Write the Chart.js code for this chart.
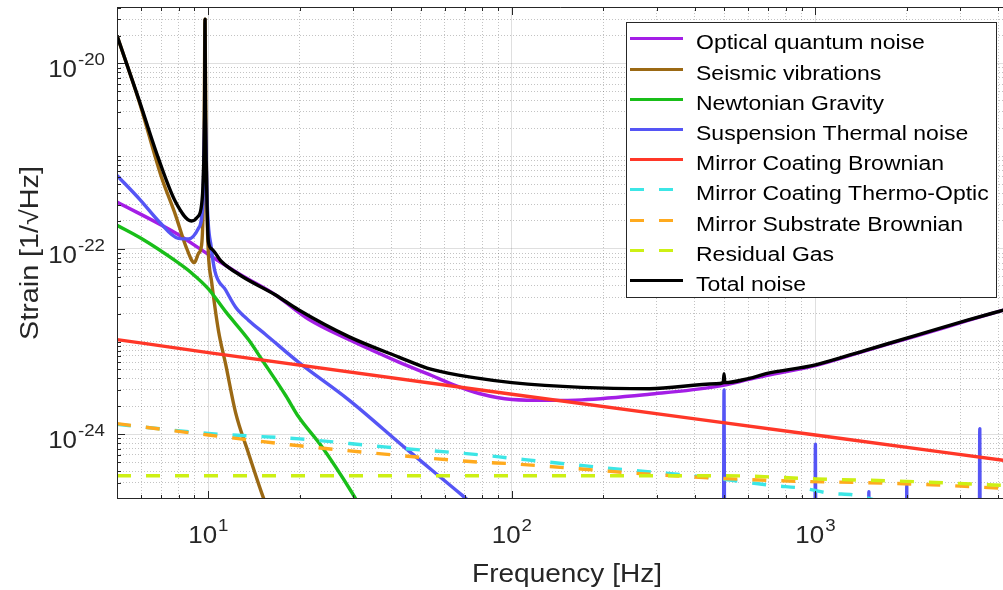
<!DOCTYPE html>
<html>
<head>
<meta charset="UTF-8">
<title>Noise budget</title>
<script src="https://cdn.jsdelivr.net/npm/chart.js"></script>
<style>
  body { margin: 0; background: #fff; overflow: hidden; }
  canvas { display: block; }
</style>
</head>
<body>
<canvas id="noiseChart" width="1003" height="590"></canvas>
<script>
// values: frequency [Hz] / strain [1/sqrt(Hz)]
const seriesNames = ['Optical quantum noise', 'Seismic vibrations', 'Newtonian Gravity',
  'Suspension Thermal noise', 'Mirror Coating Brownian', 'Mirror Coating Thermo-Optic',
  'Mirror Substrate Brownian', 'Residual Gas', 'Total noise'];

const quantumFreq = [5, 7.8, 10, 12.85, 16.6, 21.4, 29, 42.4, 54.4, 64, 78, 100, 132, 170, 284, 470, 605, 688, 1000, 1470, 2160, 3170, 4200];
const quantumStrain = [3.2e-22, 1.48e-22, 8.7e-23, 5.2e-23, 3.2e-23, 1.74e-23, 1.05e-23, 6.0e-24, 4.3e-24, 3.43e-24, 2.75e-24, 2.37e-24, 2.32e-24, 2.35e-24, 2.7e-24, 3.26e-24, 3.9e-24, 4.3e-24, 5.5e-24, 8.0e-24, 1.15e-23, 1.68e-23, 2.2e-23];

const seismicFreq = [5, 5.9, 7.0, 7.8, 8.4, 9.0, 9.27, 9.5, 9.6, 9.68, 9.75, 9.82, 9.9, 10, 10.25, 10.8, 11.4, 12.3, 13.5, 15, 16];
const seismicStrain = [2.0e-20, 4.0e-21, 6.0e-22, 2.3e-22, 1.1e-22, 7.1e-23, 8.9e-23, 1.1e-22, 2.3e-22, 1.5e-21, 3.0e-20, 1.5e-21, 2.5e-22, 9e-23, 4.4e-23, 1.3e-23, 5.7e-24, 1.7e-24, 6.5e-25, 2.3e-25, 1.3e-25];

const newtonFreq = [5, 6, 7.8, 8.8, 10, 11.4, 13.55, 15, 18, 19.8, 23.6, 29.7, 34];
const newtonStrain = [1.8e-22, 1.3e-22, 7.4e-23, 5.5e-23, 3.7e-23, 2.1e-23, 1.05e-23, 6.4e-24, 2.6e-24, 1.55e-24, 7.4e-25, 2.35e-25, 1.1e-25];

const suspFreq = [5, 6, 6.85, 7.96, 8.6, 9.27, 9.6, 9.68, 9.75, 9.82, 9.9, 10.23, 10.5, 11.4, 12.3, 13.55, 15.4, 19.8, 29, 45, 68.5, 85, 120, 200,
  497, 500, 503, 995, 1000, 1005, 1495, 1500, 1505, 1995, 2000, 2005, 3460, 3480, 3500, 4200];
const suspStrain = [6.2e-22, 3.3e-22, 2.0e-22, 1.3e-22, 1.28e-22, 1.66e-22, 3.3e-22, 1.3e-21, 3.0e-21, 1.3e-21, 3.5e-22, 1.02e-22, 5.8e-23, 3.6e-23, 2.35e-23, 1.7e-23, 1.2e-23, 6.0e-24, 2.35e-24, 6.9e-25, 2.2e-25, 1.2e-25, 6e-26, 2.5e-26,
  1e-26, 3.0e-24, 1e-26, 7e-27, 7.8e-25, 7e-27, 5e-27, 2.4e-25, 5e-27, 4e-27, 2.8e-25, 4e-27, 3e-27, 1.15e-24, 3e-27, 2.5e-27];

const coatBrownFreq = [5, 10, 100, 1000, 4200];
const coatBrownStrain = [1.05e-23, 7.6e-24, 2.7e-24, 9.8e-25, 5.2e-25];

const coatThermoFreq = [5, 10, 20, 38, 78, 100, 194, 450, 560, 720, 920, 1120, 1350, 2000];
const coatThermoStrain = [1.28e-24, 1.02e-24, 8.9e-25, 7.3e-25, 6.0e-25, 5.5e-25, 4.4e-25, 3.4e-25, 3.1e-25, 2.8e-25, 2.6e-25, 2.3e-25, 2.2e-25, 1.5e-25];

const substrateFreq = [5, 10, 20, 38, 78, 100, 284, 530, 885, 1470, 2420, 4200];
const substrateStrain = [1.3e-24, 9.8e-25, 7.5e-25, 6.1e-25, 5.0e-25, 4.8e-25, 3.7e-25, 3.3e-25, 3.1e-25, 3.0e-25, 2.85e-25, 2.6e-25];

const gasFreq = [5, 100, 500, 1000, 2000, 4200];
const gasStrain = [3.57e-25, 3.57e-25, 3.57e-25, 3.3e-25, 3.1e-25, 2.8e-25];

const totalFreq = [5, 5.9, 6.85, 7.8, 8.8, 9.2, 9.5, 9.65, 9.72, 9.75, 9.78, 9.85, 10, 10.25, 11, 12.85, 16.6, 19.8, 29, 42.4, 54.4, 78, 100, 170, 284, 470, 497, 500, 503, 605, 688, 1000, 1470, 2160, 3170, 4200];
const totalStrain = [2.0e-20, 4.1e-21, 9.4e-22, 3.2e-22, 2.0e-22, 2.2e-22, 3.0e-22, 8e-22, 4e-21, 3.0e-20, 4e-21, 7e-22, 1.2e-22, 1.0e-22, 7.4e-23, 5.1e-23, 3.2e-23, 2.2e-23, 1.13e-23, 6.8e-24, 5.0e-24, 4.0e-24, 3.6e-24, 3.2e-24, 3.1e-24, 3.5e-24, 3.6e-24, 4.5e-24, 3.6e-24, 4.0e-24, 4.5e-24, 5.6e-24, 8.1e-24, 1.17e-23, 1.7e-23, 2.2e-23];

const xTickValues = [10, 100, 1000];
const xTickLabels = ['10^1', '10^2', '10^3'];
const yTickValues = [1e-24, 1e-22, 1e-20];
const yTickLabels = ['10^-24', '10^-22', '10^-20'];
const xTitle = 'Frequency [Hz]';
const yTitle = 'Strain [1/\u221AHz]';

const xMin = 5, xMax = 4150;
const yMin = 2.23e-25, yMax = 4.07e-20;

const colors = ['#a41ee6', '#9b6914', '#19be19', '#5555f5', '#ff3728', '#3ce6e6', '#ffaa1e', '#cdf014', '#000000'];
const dashed = [false, false, false, false, false, true, true, true, false];
const axisColor = '#262626';

const pts = (f, v) => f.map((x, i) => ({ x: x, y: v[i] }));
const seriesData = [
  pts(quantumFreq, quantumStrain), pts(seismicFreq, seismicStrain), pts(newtonFreq, newtonStrain),
  pts(suspFreq, suspStrain), pts(coatBrownFreq, coatBrownStrain), pts(coatThermoFreq, coatThermoStrain),
  pts(substrateFreq, substrateStrain), pts(gasFreq, gasStrain), pts(totalFreq, totalStrain)
];

function gridTicks(min, max, labelled) {
  const out = [];
  for (let e = Math.floor(Math.log10(min)); e <= Math.ceil(Math.log10(max)); e++) {
    for (let m = 1; m <= 9; m++) {
      const v = m * Math.pow(10, e);
      if (v >= min && v <= max) {
        out.push({ value: v, major: m === 1 && labelled.some(t => Math.abs(Math.log10(t) - e) < 1e-6) });
      }
    }
  }
  return out;
}

function fontOf(size) { return size + 'px "Liberation Sans", Arial, sans-serif'; }

function drawText(ctx, str, x, y, size, align, sx, rotate) {
  ctx.save();
  ctx.translate(x, y);
  if (rotate) ctx.rotate(-Math.PI / 2);
  ctx.scale(sx, 1);
  ctx.font = fontOf(size);
  ctx.textAlign = align;
  ctx.textBaseline = 'alphabetic';
  ctx.fillText(str, 0, 0);
  ctx.restore();
}

function textWidth(ctx, str, size, sx) {
  ctx.font = fontOf(size);
  return ctx.measureText(str).width * sx;
}

const gridColor = c => (c.tick && c.tick.major) ? 'rgba(38,38,38,0.15)' : 'rgba(38,38,38,0.28)';
const gridDash = c => (c.tick && c.tick.major) ? [] : [1, 2];

const axesPlugin = {
  id: 'matlabAxes',
  afterDatasetsDraw(chart) {
    const { ctx, chartArea: a, scales: { x, y } } = chart;
    ctx.save();
    ctx.strokeStyle = axisColor;
    ctx.lineWidth = 1;
    ctx.beginPath();
    ctx.moveTo(a.left + 0.5, a.top + 0.5); ctx.lineTo(a.right, a.top + 0.5);
    ctx.moveTo(a.left + 0.5, a.top); ctx.lineTo(a.left + 0.5, a.bottom);
    ctx.moveTo(a.left, a.bottom - 0.5); ctx.lineTo(a.right, a.bottom - 0.5);
    x.ticks.forEach(t => {
      const px = Math.round(x.getPixelForValue(t.value)) + 0.5;
      const len = t.major ? 8 : 4;
      ctx.moveTo(px, a.bottom); ctx.lineTo(px, a.bottom - len);
      ctx.moveTo(px, a.top); ctx.lineTo(px, a.top + len);
    });
    y.ticks.forEach(t => {
      const py = Math.round(y.getPixelForValue(t.value)) + 0.5;
      const len = t.major ? 8 : 4;
      ctx.moveTo(a.left, py); ctx.lineTo(a.left + len, py);
    });
    ctx.stroke();

    // tick labels with superscript exponents
    ctx.fillStyle = axisColor;
    xTickValues.forEach((v, i) => {
      const parts = xTickLabels[i].split('^');
      const cx = x.getPixelForValue(v);
      const wb = textWidth(ctx, parts[0], 24, 1.08);
      const we = textWidth(ctx, parts[1], 17, 1.1);
      const left = cx - (wb + we + 1) / 2;
      drawText(ctx, parts[0], left, 543, 24, 'left', 1.08);
      drawText(ctx, parts[1], left + wb + 1, 531, 17, 'left', 1.1);
    });
    yTickValues.forEach((v, i) => {
      const parts = yTickLabels[i].split('^');
      const cy = y.getPixelForValue(v);
      const we = textWidth(ctx, parts[1], 17, 1.1);
      drawText(ctx, parts[1], 105 - we, cy + 2, 17, 'left', 1.1);
      drawText(ctx, parts[0], 104 - we, cy + 14, 24, 'right', 1.08);
    });

    drawText(ctx, xTitle, 567, 582, 25, 'center', 1.12);
    drawText(ctx, yTitle, 38, 253, 25, 'center', 1.15, true);
    ctx.restore();
  }
};

const legendPlugin = {
  id: 'boxLegend',
  afterDraw(chart) {
    const ctx = chart.ctx;
    ctx.save();
    ctx.fillStyle = '#ffffff';
    ctx.fillRect(626, 22, 371, 276);
    ctx.strokeStyle = axisColor;
    ctx.lineWidth = 1;
    ctx.strokeRect(626.5, 22.5, 370, 275);
    chart.data.datasets.forEach((ds, i) => {
      const ly = Math.round(38.3 + 30.2 * i) + 0.5;
      ctx.strokeStyle = ds.borderColor;
      ctx.lineWidth = 3;
      ctx.setLineDash(ds.borderDash || []);
      ctx.beginPath();
      ctx.moveTo(630, ly);
      ctx.lineTo(683, ly);
      ctx.stroke();
      ctx.setLineDash([]);
      ctx.fillStyle = '#000000';
      drawText(ctx, ds.label, 696, ly + 10.5, 20, 'left', 1.15);
    });
    ctx.restore();
  }
};

const datasets = seriesNames.map((name, i) => ({
  label: name,
  data: seriesData[i],
  borderColor: colors[i],
  backgroundColor: colors[i],
  borderWidth: 3.4,
  borderDash: dashed[i] ? [14, 15] : [],
  borderJoinStyle: 'round',
  cubicInterpolationMode: 'monotone',
  pointRadius: 0,
  fill: false,
  order: seriesNames.length - 1 - i
}));

new Chart(document.getElementById('noiseChart'), {
  type: 'line',
  data: { datasets: datasets },
  options: {
    responsive: false,
    animation: false,
    events: [],
    layout: { padding: { left: 0, top: 7, right: 0, bottom: 0 } },
    plugins: { legend: { display: false }, tooltip: { enabled: false } },
    scales: {
      x: {
        type: 'logarithmic',
        min: xMin,
        max: xMax,
        afterBuildTicks: s => { s.ticks = gridTicks(xMin, xMax, xTickValues); },
        afterFit: s => { s.height = 91; },
        ticks: { display: false },
        grid: { drawTicks: false, color: gridColor, lineWidth: 1 },
        border: { display: false, dash: gridDash }
      },
      y: {
        type: 'logarithmic',
        min: yMin,
        max: yMax,
        afterBuildTicks: s => { s.ticks = gridTicks(yMin, yMax, yTickValues); },
        afterFit: s => { s.width = 117; },
        ticks: { display: false },
        grid: { drawTicks: false, color: gridColor, lineWidth: 1 },
        border: { display: false, dash: gridDash }
      }
    }
  },
  plugins: [axesPlugin, legendPlugin]
});
</script>
</body>
</html>
